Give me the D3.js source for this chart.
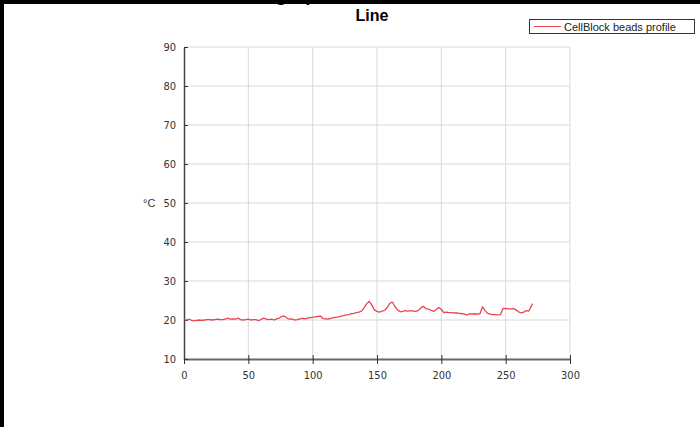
<!DOCTYPE html>
<html>
<head>
<meta charset="utf-8">
<script src="https://cdn.jsdelivr.net/npm/d3@7"></script>
<style>
  body { margin: 0; background: #fff }
  svg { display: block }
</style>
</head>
<body>
<div id="chart"></div>
<script>
const chartTitle = 'Line'
const seriesName = 'CellBlock beads profile'
const yUnit = '°C'

const xTicks = [0, 50, 100, 150, 200, 250, 300]
const yTicks = [10, 20, 30, 40, 50, 60, 70, 80, 90]

// sample time (x) and temperature reading (y)
const seconds = [
  0, 2, 4, 6, 8, 10, 12, 14, 16, 18, 20, 22, 24, 26, 28, 30, 32, 34, 36, 38,
  40, 42, 44, 46, 48, 50, 52, 54, 56, 58, 60, 62, 64, 66, 68, 70, 72, 74, 76, 78,
  80, 82, 84, 86, 88, 90, 92, 94, 96, 98, 100, 102, 104, 106, 108, 110, 112, 114, 116, 118,
  120, 122, 124, 126, 128, 130, 132, 134, 136, 138, 140, 142, 144, 146, 148, 150, 152, 154, 156, 158,
  160, 162, 164, 166, 168, 170, 172, 174, 176, 178, 180, 182, 184, 186, 188, 190, 192, 194, 196, 198,
  200, 202, 204, 206, 208, 210, 212, 214, 216, 218, 220, 222, 224, 226, 228, 230, 232, 234, 236, 238,
  240, 242, 244, 246, 248, 250, 252, 254, 256, 258, 260, 262, 264, 266, 268, 270, 271
]
const temperature = [
  20.1, 20.0, 20.2, 19.9, 19.8, 19.9, 20.0, 19.9, 20.0, 20.1, 20.1, 20.0, 20.1, 20.2, 20.1, 20.1, 20.2, 20.5, 20.2, 20.3,
  20.2, 20.5, 20.1, 20.0, 20.1, 20.2, 20.0, 20.1, 20.1, 19.8, 20.2, 20.5, 20.2, 20.1, 20.2, 20.0, 20.3, 20.5, 20.9, 21.0,
  20.5, 20.2, 20.3, 20.0, 20.1, 20.3, 20.4, 20.3, 20.5, 20.6, 20.7, 20.8, 20.9, 21.0, 20.4, 20.3, 20.2, 20.4, 20.6, 20.7,
  20.8, 21.0, 21.1, 21.3, 21.4, 21.6, 21.7, 21.9, 22.0, 22.3, 23.2, 24.2, 24.8, 23.8, 22.6, 22.2, 22.0, 22.3, 22.5, 23.2,
  24.3, 24.6, 23.4, 22.6, 22.1, 22.2, 22.4, 22.3, 22.4, 22.3, 22.2, 22.4, 23.1, 23.5, 22.9, 22.8, 22.5, 22.2, 22.7, 23.2,
  22.7, 21.9, 22.0, 21.9, 21.9, 21.8, 21.8, 21.7, 21.6, 21.5, 21.3, 21.6, 21.5, 21.6, 21.5, 21.6, 23.4, 22.4, 21.7, 21.5,
  21.4, 21.4, 21.3, 21.4, 23.0, 22.9, 22.9, 22.8, 22.9, 22.6, 22.1, 21.8, 22.0, 22.4, 22.3, 23.6, 24.2
]

const width = 700
const height = 427
const lineColor = '#e8464f'

const svg = d3.select('#chart').append('svg')
  .attr('width', width)
  .attr('height', height)
  .style('font-family', '"Liberation Sans", Arial, sans-serif')

const x = d3.scaleLinear().domain([0, 300]).range([184, 570])
const y = d3.scaleLinear().domain([10, 90]).range([359, 47])

// page frame (top + left edge) and a cut-off heading above it
svg.append('text')
  .attr('x', 214)
  .attr('y', 1)
  .style('font-size', '20px')
  .style('font-weight', 'bold')
  .text('Heating up')
svg.append('rect').attr('x', 0).attr('y', 0).attr('width', width).attr('height', 4).attr('fill', '#000')
svg.append('rect').attr('x', 0).attr('y', 0).attr('width', 4).attr('height', height).attr('fill', '#000')

// grid
svg.append('g')
  .selectAll('line')
  .data(xTicks.slice(1))
  .join('line')
  .attr('x1', d => x(d))
  .attr('x2', d => x(d))
  .attr('y1', y(90))
  .attr('y2', y(10))
  .attr('stroke', '#d9d9d9')

svg.append('g')
  .selectAll('line')
  .data(yTicks.slice(1))
  .join('line')
  .attr('x1', x(0))
  .attr('x2', x(300))
  .attr('y1', d => y(d))
  .attr('y2', d => y(d))
  .attr('stroke', '#d9d9d9')

// axes
const xAxis = svg.append('g')
  .attr('transform', `translate(0,${y(10)})`)
  .call(d3.axisBottom(x).tickValues(xTicks).tickSize(5).tickSizeOuter(0).tickPadding(7))
xAxis.select('.domain').attr('stroke', '#666').attr('stroke-width', 2)
xAxis.selectAll('.tick line').attr('stroke', '#333').attr('y1', -4)

const yAxis = svg.append('g')
  .attr('transform', `translate(${x(0)},0)`)
  .call(d3.axisLeft(y).tickValues(yTicks).tickSize(4).tickSizeOuter(0).tickPadding(4))
yAxis.select('.domain').attr('stroke', '#444').attr('stroke-width', 1.5)
yAxis.selectAll('.tick line').attr('stroke', '#333').attr('x2', 4)

svg.selectAll('.tick text')
  .attr('fill', '#333')
  .style('font-size', '11px')
  .style('font-family', '"DejaVu Sans Condensed", Tahoma, sans-serif')

svg.append('text')
  .attr('x', 143)
  .attr('y', y(50))
  .attr('dy', '0.35em')
  .style('font-size', '11px')
  .attr('fill', '#333')
  .text(yUnit)

// series
const line = d3.line()
  .x((d, i) => x(seconds[i]))
  .y(d => y(d))

svg.append('path')
  .datum(temperature)
  .attr('d', line)
  .attr('fill', 'none')
  .attr('stroke', lineColor)
  .attr('stroke-width', 1.3)
  .attr('stroke-linejoin', 'round')

// title
svg.append('text')
  .attr('x', 372)
  .attr('y', 21)
  .attr('text-anchor', 'middle')
  .style('font-size', '16px')
  .style('font-weight', 'bold')
  .text(chartTitle)

// legend
const legend = svg.append('g')
svg.append('rect')
  .attr('x', 529.5)
  .attr('y', 19.5)
  .attr('width', 165)
  .attr('height', 14)
  .attr('fill', '#fff')
  .attr('stroke', '#333')
svg.append('line')
  .attr('x1', 534)
  .attr('x2', 561)
  .attr('y1', 26.5)
  .attr('y2', 26.5)
  .attr('stroke', lineColor)
svg.append('text')
  .attr('x', 564)
  .attr('y', 30.5)
  .style('font-size', '11px')
  .attr('fill', '#222')
  .text(seriesName)
</script>
</body>
</html>
